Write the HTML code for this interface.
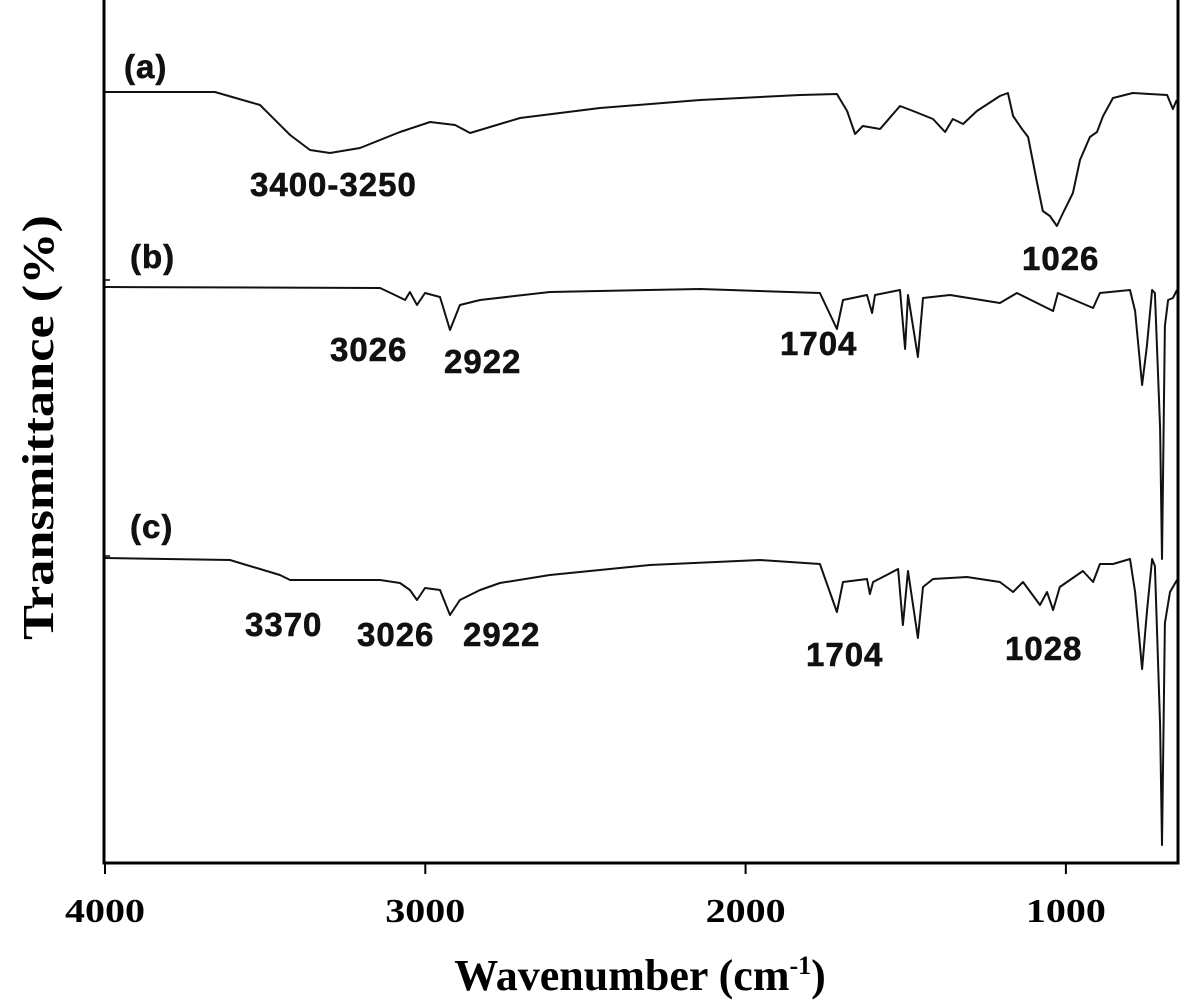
<!DOCTYPE html>
<html><head><meta charset="utf-8"><style>
html,body{margin:0;padding:0;background:#fff;}
svg{display:block;}
.lbl{font-family:"Liberation Sans",sans-serif;font-weight:bold;font-size:33px;fill:#111;letter-spacing:1px;stroke:#111;stroke-width:0.6px;}
.tick{font-family:"Liberation Serif",serif;font-weight:bold;font-size:34px;fill:#000;}
.title{font-family:"Liberation Serif",serif;font-weight:bold;font-size:44px;fill:#000;}
</style></head><body>
<svg id="chart" width="1181" height="1005" viewBox="0 0 1181 1005"></svg>
<script>
const xTicks=[4000,3000,2000,1000];
const wnA=[4000,3657,3516,3422,3360,3298,3204,3079,2985,2907,2860,2798,2704,2455,2142,1830,1715,1683,1658,1634,1580,1518,1477,1415,1377,1353,1321,1278,1206,1181,1165,1137,1118,1090,1072,1050,1028,1009,978,956,925,903,884,853,791,684,666,654];
const tA=[770,770,757,727,712,709,714,730,740,737,729,735,744,754,762,767,768,751,728,736,733,756,751,743,730,743,738,751,766,769,746,733,725,679,651,646,636,649,669,702,725,730,746,764,769,767,753,762];
const wnB=[4000,3141,3095,3063,3048,3026,3001,2954,2923,2892,2829,2611,2142,1768,1715,1696,1621,1605,1596,1518,1502,1493,1462,1446,1362,1206,1153,1040,1025,915,894,800,784,762,747,731,722,706,700,691,681,666,653];
const tB=[575,574,567,562,570,557,569,565,532,557,562,570,573,569,533,562,567,549,567,572,513,567,505,564,567,559,569,551,569,554,569,572,551,477,516,572,569,434,303,536,562,564,572];
const wnC=[4000,3610,3454,3422,3141,3079,3048,3026,3001,2954,2923,2892,2829,2767,2611,2299,1955,1768,1715,1696,1621,1612,1602,1524,1509,1493,1462,1446,1415,1309,1206,1165,1134,1081,1059,1040,1019,947,915,894,853,800,784,762,747,731,722,706,700,691,675,666,653];
const tC=[304,302,287,282,282,279,272,262,274,272,247,262,272,279,287,297,302,298,250,280,283,268,280,293,237,291,224,275,283,285,280,270,280,257,270,252,275,291,280,298,298,303,270,193,250,303,296,137,17,239,270,275,282];

const NS="http://www.w3.org/2000/svg";
const svg=document.getElementById('chart');
const X0=105,PXW=0.3203,Y0=862;
const xs=w=>X0+(4000-w)*PXW;
const ys=v=>Y0-v;
function mk(t,a){const e=document.createElementNS(NS,t);for(const k in a)e.setAttribute(k,a[k]);svg.appendChild(e);return e;}

const series=[[wnA,tA,'series-a-line'],[wnB,tB,'series-b-line'],[wnC,tC,'series-c-line']];
series.forEach(s=>{
  const d=s[0].map((w,i)=>(i?'L':'M')+xs(w).toFixed(1)+' '+ys(s[1][i]).toFixed(1)).join(' ');
  const p=mk('path',{d:d,fill:'none',stroke:'#111','stroke-width':2,'stroke-linejoin':'round'});
  
  
});

const ax=mk('path',{d:'M104 0 V863 H1178 V0',fill:'none',stroke:'#000','stroke-width':3});


[280,556].forEach(y=>{
  const l=mk('line',{x1:104,x2:110,y1:y,y2:y,stroke:'#000','stroke-width':1.5});
  
  
});
xTicks.forEach(t=>{
  const l=mk('line',{x1:xs(t),x2:xs(t),y1:863,y2:874,stroke:'#000','stroke-width':2});
  
  
  const tx=mk('text',{x:xs(t)-40,y:922,class:'tick',textLength:80,lengthAdjust:'spacingAndGlyphs'});
  tx.textContent=t;
  
  
});

const labels=[['(a)',124,78,40,'label-a'],['3400-3250',250,196,33,'peak-label-3400-3250'],['1026',1022,270,33,'peak-label-1026'],
['(b)',130,268,40,'label-b'],['3026',330,361,33,'peak-label-b-3026'],['2922',444,373,33,'peak-label-b-2922'],['1704',780,355,33,'peak-label-b-1704'],
['(c)',130,538,40,'label-c'],['3370',245,636,33,'peak-label-3370'],['3026',357,646,33,'peak-label-c-3026'],['2922',463,646,33,'peak-label-c-2922'],['1704',806,666,33,'peak-label-c-1704'],['1028',1005,660,33,'peak-label-1028']];
labels.forEach(l=>{
  const t=mk('text',{x:l[1],y:l[2],class:'lbl','font-size':l[3]});
  t.textContent=l[0];
  
  
});

const yt=mk('text',{x:-212,y:0,class:'title','font-size':50,textLength:425,lengthAdjust:'spacingAndGlyphs',transform:'translate(53,428) rotate(-90)'});
yt.textContent='Transmittance (%)';


const xt=mk('text',{x:640,y:990,class:'title','text-anchor':'middle'});
xt.innerHTML='Wavenumber (cm<tspan dy="-16" font-size="26">-1</tspan><tspan dy="16">)</tspan>';


</script>
</body></html>
